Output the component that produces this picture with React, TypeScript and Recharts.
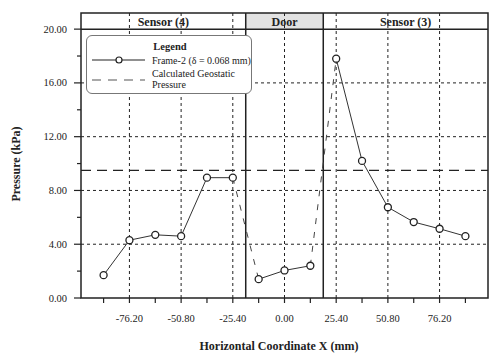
import React from 'react'
import { ComposedChart, Line, XAxis, YAxis, ReferenceLine, ReferenceArea, Label } from 'recharts'

// readings along the wall (mm, kPa)
const sensor4X = [-88.9, -76.2, -63.5, -50.8, -38.1, -25.4]
const sensor4P = [1.7, 4.3, 4.7, 4.6, 8.95, 8.95]
const doorX = [-12.7, 0, 12.7]
const doorP = [1.4, 2.05, 2.4]
const sensor3X = [25.4, 38.1, 50.8, 63.5, 76.2, 88.9]
const sensor3P = [17.8, 10.2, 6.75, 5.65, 5.15, 4.6]
const geostatic = 9.5

const regionNames = ['Sensor (4)', 'Door', 'Sensor (3)']
const regionEdges = [-100, -19.05, 19.05, 100]

const xTicks = [-88.9, -76.2, -63.5, -50.8, -38.1, -25.4, -12.7, 0, 12.7, 25.4, 38.1, 50.8, 63.5, 76.2, 88.9]
const xGrid = [-76.2, -50.8, -25.4, 0, 25.4, 50.8, 76.2]
const yTicks = [0, 2, 4, 6, 8, 10, 12, 14, 16, 18, 20]
const yGrid = [4, 8, 12, 16]
const yTop = 21.2

const font = '"Liberation Serif", "Times New Roman", serif'
const ink = '#222'

const toRows = (xs: number[], ps: number[]) => xs.map((x, i) => ({ x, p: ps[i] }))
const segments = [toRows(sensor4X, sensor4P), toRows(doorX, doorP), toRows(sensor3X, sensor3P)]
const connectors = [
  [segments[0][segments[0].length - 1], segments[1][0]],
  [segments[1][segments[1].length - 1], segments[2][0]],
]

const isMajorX = (v: number) => Math.abs(v / 25.4 - Math.round(v / 25.4)) < 1e-6

const XTick = ({ x, y, payload }: any) => {
  const v = payload.value
  return (
    <g>
      <line x1={x} x2={x} y1={y} y2={y + 5} stroke={ink} strokeWidth={1.2} />
      {isMajorX(v) && (
        <text x={x} y={y + 24} textAnchor="middle" fontSize={10.5} fill={ink} fontFamily={font}>
          {v.toFixed(2)}
        </text>
      )}
    </g>
  )
}

const YTick = ({ x, y, payload }: any) => {
  const v = payload.value
  const major = v % 4 === 0
  return (
    <g>
      <line x1={x - (major ? 7 : 4)} x2={x} y1={y} y2={y} stroke={ink} strokeWidth={1.2} />
      {major && (
        <text x={x - 14} y={y + 3.5} textAnchor="end" fontSize={10.5} fill={ink} fontFamily={font}>
          {v.toFixed(2)}
        </text>
      )}
    </g>
  )
}

const LegendBox = () => (
  <div
    style={{
      position: 'absolute', left: 86, top: 35, width: 166, height: 59,
      border: '1px solid #777', borderRadius: 6, background: 'white', boxSizing: 'border-box',
    }}
  >
    <svg width={166} height={59} style={{ position: 'absolute', left: -1, top: -1 }} fontFamily={font}>
      <text x={84} y={15} textAnchor="middle" fontSize={10.5} fontWeight="bold" fill={ink}>Legend</text>
      <line x1={6} x2={59} y1={25} y2={25} stroke={ink} strokeWidth={1.2} />
      <circle cx={33} cy={25} r={3} fill="white" stroke={ink} strokeWidth={1.2} />
      <text x={66} y={28.5} fontSize={10} fill={ink}>Frame-2 (δ = 0.068 mm)</text>
      <line x1={6} x2={59} y1={45} y2={45} stroke="#555" strokeWidth={1.2} strokeDasharray="9 7" />
      <text x={66} y={41.5} fontSize={10} fill={ink}>Calculated Geostatic</text>
      <text x={66} y={52.5} fontSize={10} fill={ink}>Pressure</text>
    </svg>
  </div>
)

export default function App() {
  return (
    <div style={{ position: 'absolute', left: 0, top: 0, width: 500, height: 353, background: 'white' }}>
      <ComposedChart width={500} height={353} margin={{ top: 13, right: 12, bottom: 25, left: 0 }}>
        <XAxis
          dataKey="x"
          type="number"
          domain={[-100, 100]}
          ticks={xTicks}
          interval={0}
          height={30}
          axisLine={false}
          tickLine={false}
          tickSize={0}
          tickMargin={0}
          tick={<XTick />}
          allowDataOverflow
        >
          <Label
            content={() => (
              <text x={279} y={350} textAnchor="middle" fontSize={12} fontWeight="bold" fill={ink} fontFamily={font}>
                Horizontal Coordinate X (mm)
              </text>
            )}
          />
        </XAxis>
        <YAxis
          type="number"
          domain={[0, yTop]}
          ticks={yTicks}
          interval={0}
          width={81}
          axisLine={false}
          tickLine={false}
          tickSize={0}
          tickMargin={0}
          tick={<YTick />}
          allowDataOverflow
        >
          <Label
            content={() => (
              <text
                x={20}
                y={164}
                transform="rotate(-90 20 164)"
                textAnchor="middle"
                fontSize={12}
                fontWeight="bold"
                fill={ink}
                fontFamily={font}
              >
                Pressure (kPa)
              </text>
            )}
          />
        </YAxis>

        {yGrid.map((v) => (
          <ReferenceLine key={'h' + v} y={v} stroke={ink} strokeDasharray="3 3" strokeWidth={1} />
        ))}
        {xGrid.map((v) => (
          <ReferenceLine key={'v' + v} x={v} stroke={ink} strokeDasharray="3 3" strokeWidth={1} />
        ))}

        {regionNames.map((name, i) => (
          <ReferenceArea
            key={name}
            x1={regionEdges[i]}
            x2={regionEdges[i + 1]}
            y1={20}
            y2={yTop}
            fill={name === 'Door' ? '#e2e2e2' : 'white'}
            fillOpacity={1}
            stroke="none"
            label={{ value: name, position: 'center', fontSize: 12, fontWeight: 'bold', fill: ink, fontFamily: font, dy: 1 }}
          />
        ))}

        <ReferenceLine y={geostatic} stroke={ink} strokeDasharray="10 6" strokeWidth={1.2} />
        <ReferenceLine y={20} stroke={ink} strokeWidth={1.5} />
        <ReferenceLine x={regionEdges[1]} stroke={ink} strokeWidth={1.5} />
        <ReferenceLine x={regionEdges[2]} stroke={ink} strokeWidth={1.5} />

        {connectors.map((c, i) => (
          <Line
            key={'c' + i}
            data={c}
            dataKey="p"
            stroke="#444"
            strokeWidth={1}
            strokeDasharray="6 8"
            dot={false}
            isAnimationActive={false}
          />
        ))}
        {segments.map((s, i) => (
          <Line
            key={'s' + i}
            data={s}
            dataKey="p"
            stroke="#333"
            strokeWidth={1}
            dot={{ r: 3.5, stroke: ink, strokeWidth: 1.3, fill: 'white' }}
            isAnimationActive={false}
          />
        ))}

        <ReferenceArea
          x1={-100}
          x2={100}
          y1={0}
          y2={yTop}
          fill="none"
          fillOpacity={0}
          stroke={ink}
          strokeWidth={1.5}
        />
      </ComposedChart>
      <LegendBox />
    </div>
  )
}
